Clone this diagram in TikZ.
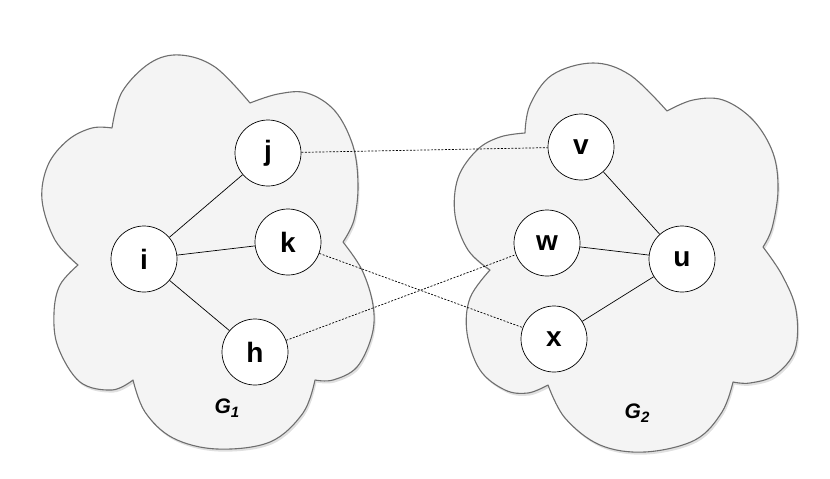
\documentclass[tikz,border=0pt]{standalone}
\usepackage{fontspec}
\setmainfont{Liberation Sans}
\begin{document}
\begin{tikzpicture}[x=1pt,y=-1pt,
  cloudfill/.style={fill=cloudgray,draw=cloudline,line width=1.1pt,line join=round},
  cloudshadow/.style={fill=black,opacity=0.12,draw=none},
  vert/.style={circle,draw=black,fill=white,line width=0.7pt,minimum size=66pt,inner sep=0pt,font=\fontsize{28}{32}\selectfont\bfseries},
  edge/.style={line width=0.7pt},
  link/.style={line width=0.7pt,dash pattern=on 2pt off 1.5pt},
  glabel/.style={font=\fontsize{21}{24}\selectfont\bfseries\itshape}]
\definecolor{cloudgray}{HTML}{F4F4F4}
\definecolor{cloudline}{HTML}{6E6E6E}
\useasboundingbox (0,0) rectangle (830,479);

\def\cloudA{plot[smooth,tension=.6] coordinates {(112,128) (122,92) (150,63) (180,55) (215,67) (250,103)}
 -- plot[smooth,tension=.6] coordinates {(250,103) (278,94) (307,93) (335,111) (353,146) (358,185) (354,220) (343,242)}
 -- plot[smooth,tension=.6] coordinates {(343,242) (362,270) (373,305) (372,335) (357,367) (333,380) (315,380)}
 -- plot[smooth,tension=.6] coordinates {(315,380) (303,413) (270,442) (217,449) (173,438) (145,412) (133,380)}
 -- plot[smooth,tension=.6] coordinates {(133,380) (112,390) (80,382) (58,347) (54,313) (60,285) (78,265)}
 -- plot[smooth,tension=.6] coordinates {(78,265) (55,240) (42,200) (48,165) (68,140) (92,128) (112,128)} -- cycle}
\def\cloudB{plot[smooth,tension=.6] coordinates {(525,133) (530,105) (552,75) (593,63) (630,75) (667,111)}
 -- plot[smooth,tension=.6] coordinates {(667,111) (693,100) (723,100) (753,120) (773,153) (778,190) (772,228) (763,247)}
 -- plot[smooth,tension=.6] coordinates {(763,247) (782,275) (796,310) (795,350) (775,375) (750,383) (733,382)}
 -- plot[smooth,tension=.6] coordinates {(733,382) (722,412) (695,440) (645,452) (600,445) (565,418) (548,385)}
 -- plot[smooth,tension=.6] coordinates {(548,385) (528,393) (505,390) (480,370) (467,333) (470,298) (490,270)}
 -- plot[smooth,tension=.6] coordinates {(490,270) (468,250) (455,215) (458,178) (477,150) (500,137) (525,133)} -- cycle}

\begin{scope}[shift={(1.5,2.5)}]
\fill[cloudshadow] \cloudA;
\fill[cloudshadow] \cloudB;
\end{scope}
\path[cloudfill] \cloudA;
\path[cloudfill] \cloudB;

\node[vert] (j) at (268,153) {j};
\node[vert] (i) at (144,259) {i};
\node[vert] (k) at (288,242) {k};
\node[vert] (h) at (255,352) {h};
\node[vert] (v) at (581,147) {v};
\node[vert] (w) at (547,243) {w};
\node[vert] (u) at (682,259) {u};
\node[vert] (x) at (554,339) {x};

\node[glabel] (g1) at (227,408) {G\raisebox{-0.35ex}{\fontsize{15}{15}\selectfont 1}};
\node[glabel] (g2) at (637,413) {G\raisebox{-0.35ex}{\fontsize{15}{15}\selectfont 2}};

\draw[edge] (i) -- (j);
\draw[edge] (i) -- (k);
\draw[edge] (i) -- (h);
\draw[edge] (v) -- (u);
\draw[edge] (w) -- (u);
\draw[edge] (x) -- (u);

\draw[link] (j) -- (v);
\draw[link] (k) -- (x);
\draw[link] (h) -- (w);
\end{tikzpicture}
\end{document}
